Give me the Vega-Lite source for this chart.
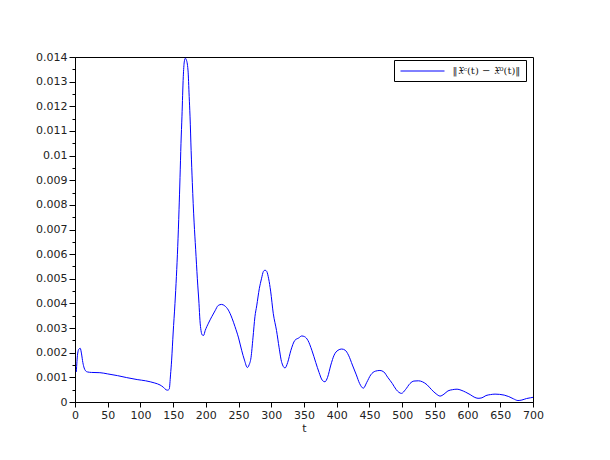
{
  "$schema": "https://vega.github.io/schema/vega-lite/v6.json",
  "width": 458,
  "height": 345,
  "autosize": "none",
  "padding": {"left": 75, "top": 57, "right": 77, "bottom": 58},
  "background": "white",
  "config": {
    "view": {"stroke": "black", "strokeWidth": 1},
    "axis": {"grid": false, "domainColor": "black", "tickColor": "black", "labelColor": "#222", "labelFont": "DejaVu Sans", "labelFontSize": 11, "titleFont": "DejaVu Sans", "titleFontSize": 11, "titleFontWeight": "normal", "titleColor": "#222", "labelOverlap": false}
  },
  "data": {
    "values": [
      {"t": 2, "v": 0.00122}, {"t": 4, "v": 0.00195}, {"t": 6, "v": 0.00215}, {"t": 8, "v": 0.00218},
      {"t": 10, "v": 0.00195}, {"t": 12, "v": 0.0016}, {"t": 14, "v": 0.00138}, {"t": 16, "v": 0.00127},
      {"t": 19, "v": 0.00122}, {"t": 25, "v": 0.0012}, {"t": 38, "v": 0.00119}, {"t": 50, "v": 0.00114},
      {"t": 65, "v": 0.00107}, {"t": 79, "v": 0.00099}, {"t": 95, "v": 0.00091}, {"t": 108, "v": 0.00086},
      {"t": 115, "v": 0.00082}, {"t": 122, "v": 0.00077}, {"t": 130, "v": 0.00069}, {"t": 135, "v": 0.0006},
      {"t": 139, "v": 0.0005}, {"t": 141.5, "v": 0.00048}, {"t": 144, "v": 0.00052}, {"t": 146, "v": 0.0011},
      {"t": 147.7, "v": 0.0017}, {"t": 150, "v": 0.0028}, {"t": 152.8, "v": 0.004}, {"t": 155, "v": 0.0051},
      {"t": 157, "v": 0.0063}, {"t": 159, "v": 0.0078}, {"t": 160.5, "v": 0.0091}, {"t": 162, "v": 0.0105},
      {"t": 163.5, "v": 0.0116}, {"t": 165.5, "v": 0.0132}, {"t": 167, "v": 0.0138}, {"t": 168.6, "v": 0.01395},
      {"t": 170, "v": 0.0139}, {"t": 172.7, "v": 0.01347}, {"t": 174.5, "v": 0.0124}, {"t": 175.8, "v": 0.0116},
      {"t": 177.5, "v": 0.0102}, {"t": 179.3, "v": 0.0089}, {"t": 182, "v": 0.0073}, {"t": 184.4, "v": 0.0062},
      {"t": 187, "v": 0.005}, {"t": 189.5, "v": 0.004}, {"t": 191, "v": 0.0033}, {"t": 192.6, "v": 0.0029},
      {"t": 194.5, "v": 0.00272}, {"t": 196.5, "v": 0.0027}, {"t": 199, "v": 0.0029}, {"t": 204, "v": 0.0032},
      {"t": 209, "v": 0.00346}, {"t": 214, "v": 0.0037}, {"t": 219, "v": 0.00392}, {"t": 224, "v": 0.00396},
      {"t": 229, "v": 0.0039}, {"t": 234.4, "v": 0.00373}, {"t": 240, "v": 0.0034}, {"t": 244.5, "v": 0.00306},
      {"t": 250, "v": 0.0026}, {"t": 254.7, "v": 0.0021}, {"t": 259, "v": 0.0017}, {"t": 263.4, "v": 0.0014},
      {"t": 266, "v": 0.0015}, {"t": 269, "v": 0.0018}, {"t": 272, "v": 0.0026}, {"t": 275, "v": 0.00346},
      {"t": 277.7, "v": 0.0039}, {"t": 281.7, "v": 0.0046}, {"t": 285, "v": 0.005}, {"t": 288, "v": 0.0053},
      {"t": 290.4, "v": 0.00535}, {"t": 293, "v": 0.0053}, {"t": 296, "v": 0.005}, {"t": 299, "v": 0.0045},
      {"t": 303, "v": 0.0036}, {"t": 308, "v": 0.0029}, {"t": 312, "v": 0.0022}, {"t": 316, "v": 0.0016},
      {"t": 321, "v": 0.00138}, {"t": 325, "v": 0.0016}, {"t": 330, "v": 0.0021}, {"t": 336, "v": 0.0025},
      {"t": 342, "v": 0.0026}, {"t": 346.5, "v": 0.00268}, {"t": 351, "v": 0.00265}, {"t": 356, "v": 0.0025},
      {"t": 362, "v": 0.0021}, {"t": 368, "v": 0.0016}, {"t": 373, "v": 0.0012}, {"t": 378, "v": 0.00088},
      {"t": 382, "v": 0.00082}, {"t": 386, "v": 0.001}, {"t": 391, "v": 0.0015}, {"t": 396, "v": 0.0019},
      {"t": 402, "v": 0.0021}, {"t": 407.6, "v": 0.00215}, {"t": 413, "v": 0.0021}, {"t": 418, "v": 0.0019},
      {"t": 424, "v": 0.0015}, {"t": 430, "v": 0.0011}, {"t": 435, "v": 0.00075}, {"t": 440.7, "v": 0.00056},
      {"t": 446, "v": 0.0008}, {"t": 452, "v": 0.0011}, {"t": 459, "v": 0.00125}, {"t": 466, "v": 0.00128},
      {"t": 472, "v": 0.00122}, {"t": 478, "v": 0.001}, {"t": 485, "v": 0.00075}, {"t": 491, "v": 0.0005},
      {"t": 499, "v": 0.00035}, {"t": 505, "v": 0.0005}, {"t": 512, "v": 0.00075}, {"t": 518, "v": 0.00085},
      {"t": 525, "v": 0.00086}, {"t": 531, "v": 0.00082}, {"t": 538, "v": 0.0007}, {"t": 545, "v": 0.0005},
      {"t": 552, "v": 0.00033}, {"t": 558, "v": 0.00024}, {"t": 564, "v": 0.00032}, {"t": 570, "v": 0.00045},
      {"t": 577, "v": 0.0005}, {"t": 584, "v": 0.00052}, {"t": 590, "v": 0.00048}, {"t": 597, "v": 0.0004},
      {"t": 604, "v": 0.0003}, {"t": 610, "v": 0.0002}, {"t": 616, "v": 0.00015}, {"t": 622, "v": 0.00017},
      {"t": 628, "v": 0.00026}, {"t": 635, "v": 0.0003}, {"t": 642, "v": 0.00032}, {"t": 649, "v": 0.00031},
      {"t": 656, "v": 0.00028}, {"t": 663, "v": 0.00022}, {"t": 670, "v": 0.00013}, {"t": 677, "v": 0.00006},
      {"t": 683, "v": 0.00008}, {"t": 690, "v": 0.00014}, {"t": 696, "v": 0.00017}, {"t": 700, "v": 0.00019}
    ]
  },
  "transform": [{"calculate": "'‖𝔛ᶜ(t) − 𝔛⁰(t)‖'", "as": "series"}],
  "layer": [
    {
      "mark": {"type": "line", "strokeWidth": 1, "clip": true, "interpolate": "monotone"},
      "encoding": {
        "x": {"field": "t", "type": "quantitative", "scale": {"domain": [0, 700], "nice": false},
              "axis": {"values": [0,50,100,150,200,250,300,350,400,450,500,550,600,650,700], "tickSize": 5, "labelPadding": 2, "title": "t", "titlePadding": 2, "labelFlush": false, "labelOverlap": false}},
        "y": {"field": "v", "type": "quantitative", "scale": {"domain": [0, 0.014], "nice": false, "zero": true},
              "axis": {"orient": "left", "values": [0,0.001,0.002,0.003,0.004,0.005,0.006,0.007,0.008,0.009,0.01,0.011,0.012,0.013,0.014], "format": "~g", "tickSize": 6, "labelPadding": 2, "title": null, "labelFlush": false, "labelOverlap": false}},
        "color": {"field": "series", "type": "nominal", "scale": {"range": ["#0000ff"]},
                  "legend": {"title": null, "orient": "none", "legendX": 319, "legendY": 3, "strokeColor": "black", "fillColor": "white", "padding": 5, "symbolType": "M-4,0H4", "symbolSize": 121, "symbolStrokeWidth": 1, "symbolOffset": 17.5, "labelFont": "DejaVu Serif", "labelFontSize": 10, "labelColor": "#222", "labelOffset": 24, "labelLimit": 200}}
      }
    },
    {
      "mark": {"type": "line", "opacity": 0},
      "encoding": {
        "x": {"field": "t", "type": "quantitative",
              "axis": {"values": [0,50,100,150,200,250,300,350,400,450,500,550,600,650,700], "tickSize": 5, "labelPadding": 2, "title": "t", "titlePadding": 2, "labelFlush": false, "labelOverlap": false}},
        "y": {"field": "v", "type": "quantitative",
              "axis": {"orient": "left", "values": [0.0005,0.0015,0.0025,0.0035,0.0045,0.0055,0.0065,0.0075,0.0085,0.0095,0.0105,0.0115,0.0125,0.0135], "labels": false, "domain": false, "tickSize": 3, "title": null}}
      }
    }
  ],
  "resolve": {"axis": {"y": "independent"}}
}
